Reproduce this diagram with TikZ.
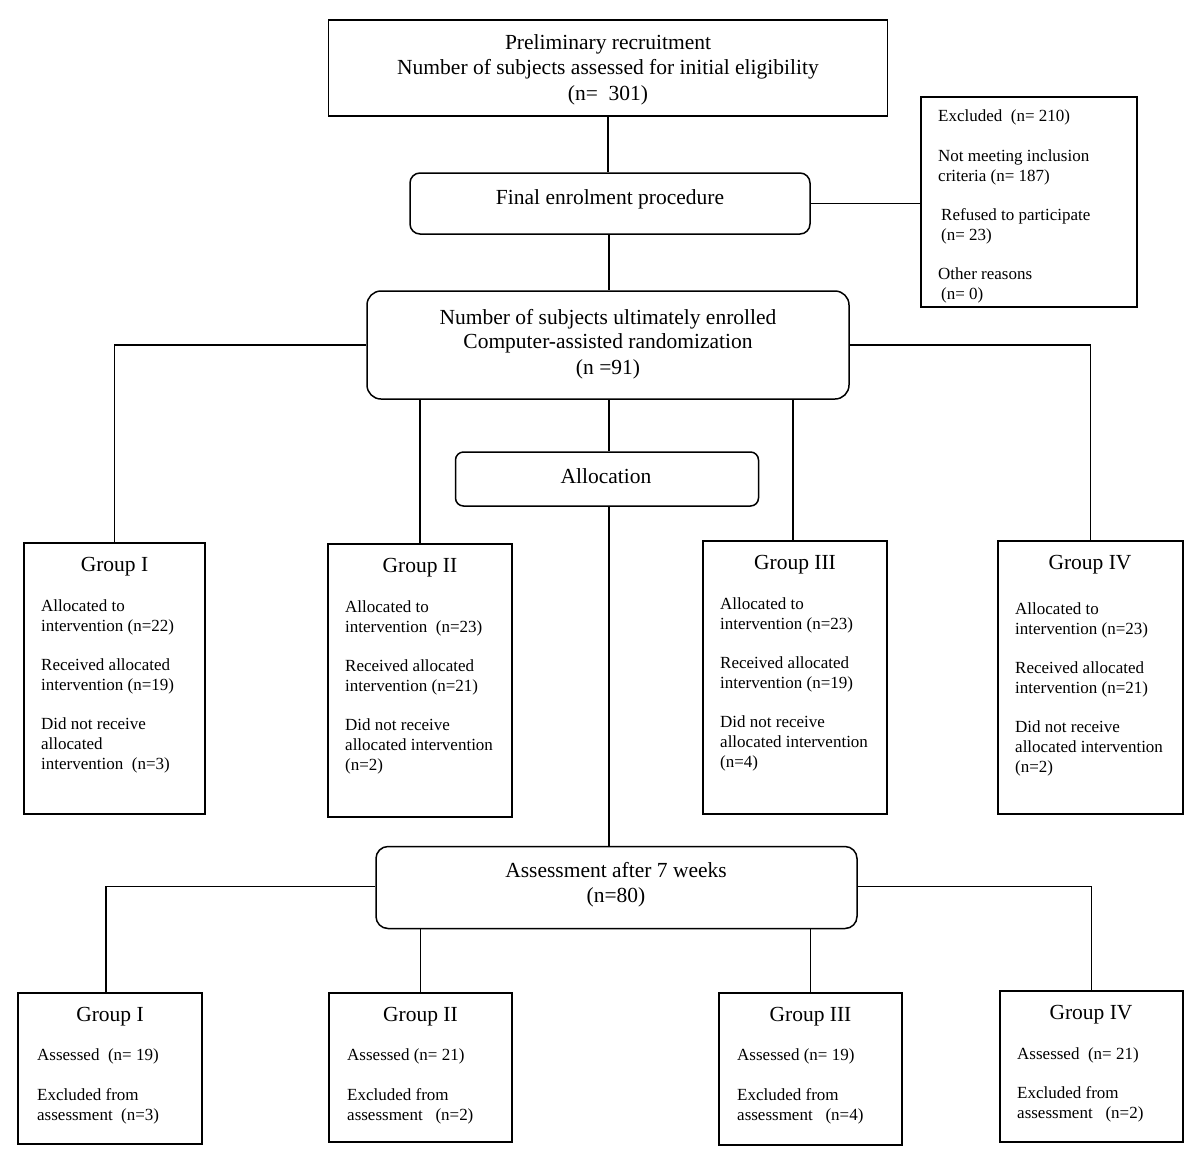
\documentclass[tikz,border=0pt]{standalone}
\usepackage{fontspec}
\setmainfont{Liberation Serif}
\begin{document}
\begin{tikzpicture}[x=1pt,y=-1pt,
  box/.style={draw, line width=1.5pt, inner sep=0pt},
  rbox/.style={box, rounded corners=10pt},
  conn/.style={line width=1.5pt},
  big/.style={font=\fontsize{21.5}{25}\selectfont, inner sep=0pt, anchor=base},
  small/.style={font=\fontsize{17}{20}\selectfont, inner sep=0pt, align=left, anchor=north west}]
\useasboundingbox (0,0) rectangle (1200,1163);
% boxes
\node[box, minimum width=559pt, minimum height=96pt] (top) at (608,68) {};
\node[rbox, minimum width=400pt, minimum height=61pt] (final) at (610,203.5) {};
\node[box, minimum width=216pt, minimum height=210pt] (excl) at (1029,202) {};
\node[rbox, rounded corners=14pt, minimum width=482pt, minimum height=108pt] (enr) at (608,345) {};
\node[rbox, rounded corners=8pt, minimum width=303pt, minimum height=54pt] (alloc) at (607,479) {};
\node[box, minimum width=181pt, minimum height=271pt] (g1) at (114.5,678.5) {};
\node[box, minimum width=184pt, minimum height=273pt] (g2) at (420,680.5) {};
\node[box, minimum width=184pt, minimum height=273pt] (g3) at (795,677.5) {};
\node[box, minimum width=185pt, minimum height=273pt] (g4) at (1090.5,677.5) {};
\node[rbox, rounded corners=12pt, minimum width=481pt, minimum height=82pt] (assess) at (616.5,887.5) {};
\node[box, minimum width=184pt, minimum height=151pt] (b1) at (110,1068.5) {};
\node[box, minimum width=183pt, minimum height=149pt] (b2) at (420.5,1067.5) {};
\node[box, minimum width=183pt, minimum height=152pt] (b3) at (810.5,1069) {};
\node[box, minimum width=183pt, minimum height=151pt] (b4) at (1091.5,1066.5) {};
% centered texts
\node[big] (t1) at (608,49) {Preliminary recruitment};
\node[big] (t2) at (608,74) {Number of subjects assessed for initial eligibility};
\node[big] (t3) at (608,100) {(n=~ 301)};
\node[big] (tf) at (610,204) {Final enrolment procedure};
\node[big] (e1) at (608,324) {Number of subjects ultimately enrolled};
\node[big] (e2) at (608,348) {Computer-assisted randomization};
\node[big] (e3) at (608,374) {(n =91)};
\node[big] (ta) at (606,483) {Allocation};
\node[big] (s1) at (616,877) {Assessment after 7 weeks};
\node[big] (s2) at (616,902) {(n=80)};
\node[big] (g1t) at (114.5,571) {Group I};
\node[big] (g2t) at (420,572) {Group II};
\node[big] (g3t) at (795,569) {Group III};
\node[big] (g4t) at (1090,569) {Group IV};
\node[big] (b1t) at (110,1021) {Group I};
\node[big] (b2t) at (420.5,1021) {Group II};
\node[big] (b3t) at (810.5,1021) {Group III};
\node[big] (b4t) at (1091,1019) {Group IV};
% left-aligned texts
\node[small] (ex) at (938,109.5) {Excluded~~(n= 210)\\[20pt]Not meeting inclusion\\criteria (n= 187)\\[19pt]\hspace{3pt}Refused to participate\\\hspace{3pt}(n= 23)\\[19pt]Other reasons\\\hspace{3pt}(n= 0)};
\node[small] (g1b) at (41,599.5) {Allocated to\\intervention (n=22)\\[19pt]Received allocated\\intervention (n=19)\\[19pt]Did not receive\\allocated\\intervention~~(n=3)};
\node[small] (g2b) at (345,600.5) {Allocated to\\intervention~~(n=23)\\[19pt]Received allocated\\intervention (n=21)\\[19pt]Did not receive\\allocated intervention\\(n=2)};
\node[small] (g3b) at (720,597.5) {Allocated to\\intervention (n=23)\\[19pt]Received allocated\\intervention (n=19)\\[19pt]Did not receive\\allocated intervention\\(n=4)};
\node[small] (g4b) at (1015,602.5) {Allocated to\\intervention (n=23)\\[19pt]Received allocated\\intervention (n=21)\\[19pt]Did not receive\\allocated intervention\\(n=2)};
\node[small] (b1b) at (37,1048.5) {Assessed~~(n= 19)\\[20pt]Excluded from\\assessment~~(n=3)};
\node[small] (b2b) at (347,1048.5) {Assessed (n= 21)\\[20pt]Excluded from\\assessment~~~(n=2)};
\node[small] (b3b) at (737,1048.5) {Assessed (n= 19)\\[20pt]Excluded from\\assessment~~~(n=4)};
\node[small] (b4b) at (1017,1047.5) {Assessed~~(n= 21)\\[19pt]Excluded from\\assessment~~~(n=2)};
% connectors
\draw[conn] (top.south) -- (top.south |- final.north);
\draw[conn] (final.east) -- (final.east -| excl.west);
\draw[conn] ([xshift=1pt]enr.north |- final.south) -- ([xshift=1pt]enr.north);
\draw[conn] (enr.west) -| (g1.north);
\draw[conn] (enr.east) -| (g4.north);
\draw[conn] (g2.north |- enr.south) -- (g2.north);
\draw[conn] ([xshift=-2pt]g3.north |- enr.south) -- ([xshift=-2pt]g3.north);
\draw[conn] ([xshift=2pt]alloc.north |- enr.south) -- ([xshift=2pt]alloc.north);
\draw[conn] ([xshift=2pt]alloc.south) -- ([xshift=2pt]alloc.south |- assess.north);
\draw[conn] ([yshift=1pt]assess.west) -| ([xshift=-4pt]b1.north);
\draw[conn] ([yshift=1pt]assess.east) -| (b4.north);
\draw[conn] (b2.north |- assess.south) -- (b2.north);
\draw[conn] (b3.north |- assess.south) -- (b3.north);
\end{tikzpicture}
\end{document}
